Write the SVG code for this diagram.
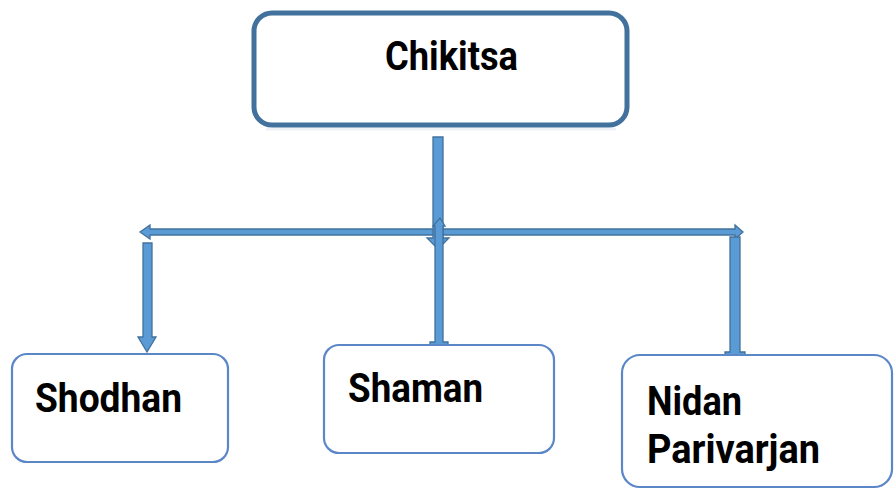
<svg xmlns="http://www.w3.org/2000/svg" width="894" height="490" viewBox="0 0 894 490">
  <style>
    .label { font-family: Roboto, "Liberation Sans", Arial, sans-serif; font-weight: bold; font-size: 40px; fill: #000; }
    .root { fill: #fff; stroke: #41719C; stroke-width: 5; }
    .leaf { fill: #fff; stroke: #5B87C9; stroke-width: 2.2; }
    .arrow { fill: #5B9BD5; stroke: #41719C; stroke-width: 1.3; stroke-linejoin: miter; }
  </style>

  <rect width="894" height="490" fill="#fff"/>

  <!-- connectors -->
  <g id="connectors">
    <!-- horizontal bus with heads at both ends -->
    <polygon class="arrow" points="140,232 150,225 150,229 735,229 735,225 743,232 735,239 735,235 150,235 150,239"/>
    <!-- stem from Chikitsa down to the bus -->
    <polygon class="arrow" points="433,137 443,137 443,238 449,238 438,249 427,238 433,238"/>
    <!-- Shodhan branch -->
    <polygon class="arrow" points="143,243 152,243 152,337 156,337 147,352 138,337 143,337"/>
    <!-- Shaman branch (head pointing up at the bus) -->
    <polygon class="arrow" points="440,218 445,226 443,226 443,342 448,342 448,345 430,345 430,342 435,342 435,226 433,226"/>
    <!-- Nidan Parivarjan branch -->
    <polygon class="arrow" points="730,237 740,237 740,352 745,352 745,355 725,355 725,352 730,352"/>
  </g>

  <!-- root node -->
  <g id="node-chikitsa">
    <rect x="266" y="128" width="350" height="2.5" fill="#eef1f5"/>
    <rect class="root" x="254" y="13" width="373" height="112" rx="18" ry="18"/>
    <text class="label" x="385" y="70" textLength="133" lengthAdjust="spacingAndGlyphs">Chikitsa</text>
  </g>

  <!-- leaf nodes -->
  <g id="node-shodhan">
    <rect class="leaf" x="12" y="354" width="216" height="108" rx="15" ry="15"/>
    <text class="label" x="35" y="412" textLength="147" lengthAdjust="spacingAndGlyphs">Shodhan</text>
  </g>

  <g id="node-shaman">
    <rect class="leaf" x="324" y="345" width="230" height="108" rx="15" ry="15"/>
    <text class="label" x="348" y="402" textLength="135" lengthAdjust="spacingAndGlyphs">Shaman</text>
  </g>

  <g id="node-nidan">
    <rect class="leaf" x="622" y="355" width="270" height="132" rx="18" ry="18"/>
    <text class="label" x="647" y="415" textLength="95" lengthAdjust="spacingAndGlyphs">Nidan</text>
    <text class="label" x="647" y="463" textLength="173" lengthAdjust="spacingAndGlyphs">Parivarjan</text>
  </g>
</svg>
